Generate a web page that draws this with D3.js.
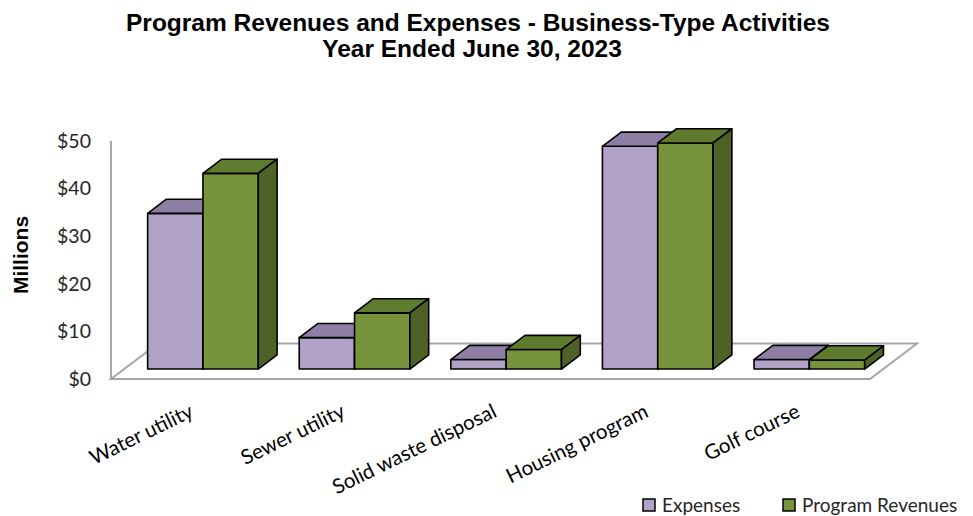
<!DOCTYPE html>
<html>
<head>
<meta charset="utf-8">
<script src="https://cdn.jsdelivr.net/npm/d3@7"></script>
<style>
  body { margin: 0; background: #fff; }
</style>
</head>
<body>
<div id="chart"></div>
<script>
var categories = ["Water utility", "Sewer utility", "Solid waste disposal", "Housing program", "Golf course"];
var seriesNames = ["Expenses", "Program Revenues"];
var expenses = [32.7, 6.6, 2.0, 46.8, 2.0];
var revenues = [41.1, 11.8, 4.1, 47.5, 1.9];
var yTicks = [0, 10, 20, 30, 40, 50];

var width = 973, height = 516;

// colours per series: front, top, side
var fills = [
  { front: "#b3a2c7", top: "#8e7ea3", side: "#776890" },
  { front: "#77933c", top: "#5f7b2e", side: "#4e6228" }
];

// oblique depth of the floor and where the bars sit inside it
var floorDepth = { dx: 47, dy: -35.5 };
var barStart = 0.28, barEnd = 0.68;

var svg = d3.select("#chart").append("svg")
  .attr("width", width)
  .attr("height", height)
  .style("font-family", "Lato, sans-serif");

// front plane scales
var y = d3.scaleLinear().domain([0, 50]).range([379, 141]);
var x = d3.scaleBand().domain(categories).range([114, 872]).paddingInner(0.27).paddingOuter(0.135);
var xs = d3.scaleBand().domain(seriesNames).range([0, x.bandwidth()]);

var ox = floorDepth.dx * barStart, oy = floorDepth.dy * barStart;
var bdx = floorDepth.dx * (barEnd - barStart), bdy = floorDepth.dy * (barEnd - barStart);

// floor
var x0 = 111, x1 = 870;
svg.append("path")
  .attr("d", "M" + x0 + "," + y(0) + "L" + x1 + "," + y(0) +
    "L" + (x1 + floorDepth.dx) + "," + (y(0) + floorDepth.dy) +
    "L" + (x0 + floorDepth.dx) + "," + (y(0) + floorDepth.dy) + "Z")
  .attr("fill", "none")
  .attr("stroke", "#a6a6a6")
  .attr("stroke-width", 2);

// value axis line
svg.append("line")
  .attr("x1", x0).attr("x2", x0)
  .attr("y1", y(0)).attr("y2", y(50))
  .attr("stroke", "#a6a6a6")
  .attr("stroke-width", 2);

// tick labels
svg.append("g").selectAll("text")
  .data(yTicks)
  .enter().append("text")
    .attr("x", 91)
    .attr("y", function(d) { return y(d); })
    .attr("dy", "0.35em")
    .attr("text-anchor", "end")
    .style("font-size", "19.5px")
    .attr("fill", "#262626")
    .text(function(d) { return "$" + d; });

// bars
var rows = [];
categories.forEach(function(c, i) {
  rows.push({ cat: c, s: 0, v: expenses[i] });
  rows.push({ cat: c, s: 1, v: revenues[i] });
});

var bars = svg.append("g").selectAll("g")
  .data(rows)
  .enter().append("g");

function pts(a) { return a.map(function(p) { return p.join(","); }).join(" "); }

bars.each(function(d) {
  var g = d3.select(this);
  var left = x(d.cat) + xs(seriesNames[d.s]) + ox;
  var right = left + xs.bandwidth();
  var bottom = y(0) + oy;
  var top = y(d.v) + oy;
  var f = fills[d.s];
  // front
  g.append("polygon")
    .attr("points", pts([[left, bottom], [right, bottom], [right, top], [left, top]]))
    .attr("fill", f.front);
  // top
  g.append("polygon")
    .attr("points", pts([[left, top], [right, top], [right + bdx, top + bdy], [left + bdx, top + bdy]]))
    .attr("fill", f.top);
  // side
  g.append("polygon")
    .attr("points", pts([[right, top], [right + bdx, top + bdy], [right + bdx, bottom + bdy], [right, bottom]]))
    .attr("fill", f.side);
  g.selectAll("polygon")
    .attr("stroke", "#000")
    .attr("stroke-width", 1.6)
    .attr("stroke-linejoin", "round");
});

// category labels
svg.append("g").selectAll("text")
  .data(categories)
  .enter().append("text")
    .attr("transform", function(d) {
      return "translate(" + (x(d) + x.bandwidth() / 2 + 5) + ",416) rotate(-26)";
    })
    .attr("text-anchor", "end")
    .style("font-size", "20.5px")
    .attr("fill", "#000")
    .text(function(d) { return d; });

// y axis title
svg.append("text")
  .attr("transform", "translate(28,255) rotate(-90)")
  .attr("text-anchor", "middle")
  .style("font-family", "'Liberation Sans', Arial, sans-serif")
  .style("font-weight", "bold")
  .style("font-size", "21px")
  .text("Millions");

// title
var title = svg.append("text")
  .attr("text-anchor", "middle")
  .style("font-family", "'Liberation Sans', Arial, sans-serif")
  .style("font-weight", "bold")
  .style("font-size", "24.5px");
title.append("tspan").attr("x", 478).attr("y", 31).text("Program Revenues and Expenses - Business-Type Activities");
title.append("tspan").attr("x", 472).attr("y", 57).text("Year Ended June 30, 2023");

// legend
var legendX = [643, 783];
var legend = svg.append("g").selectAll("g")
  .data(seriesNames)
  .enter().append("g")
    .attr("transform", function(d, i) { return "translate(" + legendX[i] + ",499)"; });
legend.append("rect")
  .attr("width", 12).attr("height", 12)
  .attr("fill", function(d, i) { return fills[i].front; })
  .attr("stroke", "#000")
  .attr("stroke-width", 1.5);
legend.append("text")
  .attr("x", 19)
  .attr("y", 6)
  .attr("dy", "0.35em")
  .style("font-size", "19px")
  .attr("fill", "#262626")
  .text(function(d) { return d; });
</script>
</body>
</html>
